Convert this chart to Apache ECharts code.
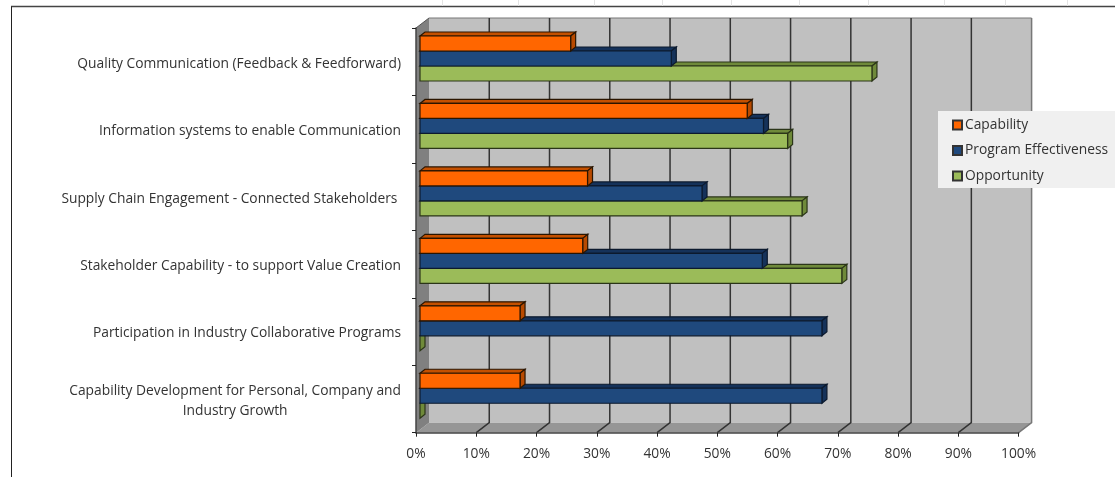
<!DOCTYPE html>
<html><head><meta charset="utf-8">
<style>html,body{margin:0;padding:0;background:#fff}#c{width:1115px;height:477px}</style>
<script src="https://cdn.jsdelivr.net/npm/echarts@6/dist/echarts.min.js"></script>
</head><body><div id="c"></div>
<script>
const categories = [
  'Quality Communication (Feedback & Feedforward)',
  'Information systems to enable Communication',
  'Supply Chain Engagement - Connected Stakeholders ',
  'Stakeholder Capability - to support Value Creation',
  'Participation in Industry Collaborative Programs',
  'Capability Development for Personal, Company and\nIndustry Growth'
];
const capability = [25, 54.3, 27.8, 27, 16.6, 16.6];
const programEffectiveness = [41.7, 57, 46.8, 56.8, 66.7, 66.7];
const opportunity = [75, 61, 63.4, 70, 0, 0];
const axisTicks = [0,10,20,30,40,50,60,70,80,90,100];
const sheetLines = [442,518,594,662,731,799,868,944,1005,1067];

const FONT = '"Open Sans"';
const LABEL_SIZE = 13.8;
const DX = 13, DY = 10;           // wall depth
const BX = 5, BY = 4, X0 = 4;     // bar depth and bar inset

function barSeries(name, values, slot, face, top, side, edge, z) {
  return {
    name, type: 'custom', z, silent: true,
    itemStyle: { color: face, borderColor: '#333', borderWidth: 1 },
    encode: { x: 0, y: 1 },
    data: values.map((v, i) => [v, i]),
    renderItem(params, api) {
      const p = api.coord([api.value(0), api.value(1)]);
      const base = api.coord([0, api.value(1)]);
      const band = api.size([0, 1])[1];
      const h = band * 0.2224;
      const x0 = base[0] + X0, x1 = p[0] + X0;
      const y0 = p[1] - band * 0.5 + band * 0.1186 + slot * h, y1 = y0 + h;
      const st = (c) => ({ fill: c, stroke: edge, lineWidth: 1.2 });
      const kids = [
        { type: 'polygon', shape: { points: [[x0, y0], [x0 + BX, y0 - BY], [x1 + BX, y0 - BY], [x1, y0]] }, style: st(top) },
        { type: 'polygon', shape: { points: [[x1, y0], [x1 + BX, y0 - BY], [x1 + BX, y1 - BY], [x1, y1]] }, style: st(side) }
      ];
      if (api.value(0) > 0) kids.push({ type: 'rect', shape: { x: x0, y: y0, width: x1 - x0, height: h }, style: st(face) });
      return { type: 'group', children: kids };
    }
  };
}

const wallSeries = {
  type: 'custom', name: 'wall', z: 1, silent: true,
  encode: { x: 0 },
  data: axisTicks.map(t => [t]),
  renderItem(params, api) {
    const cs = params.coordSys;
    const t = api.value(0);
    const x = api.coord([t, 0])[0];
    const T = cs.y, B = cs.y + cs.height, L = cs.x, R = cs.x + cs.width;
    const kids = [];
    if (t === 0) {
      kids.push(
        { type: 'polygon', shape: { points: [[L + DX, T - DY], [R + DX, T - DY], [R + DX, B - DY], [L + DX, B - DY]] }, style: { fill: '#c0c0c0' } },
        { type: 'polygon', shape: { points: [[L, B], [L + DX, B - DY], [R + DX, B - DY], [R, B]] }, style: { fill: '#969696' } },
        { type: 'polygon', shape: { points: [[L, T], [L + DX, T - DY], [L + DX, B - DY], [L, B]] }, style: { fill: '#808080' } },
        { type: 'line', shape: { x1: L, y1: T, x2: L + DX, y2: T - DY }, style: { stroke: '#555', lineWidth: 1 } },
        { type: 'line', shape: { x1: L + DX, y1: T - DY, x2: R + DX, y2: T - DY }, style: { stroke: '#777', lineWidth: 1 } }
      );
    } else {
      const c = t === 100 ? '#777' : '#333';
      kids.push(
        { type: 'polyline', shape: { points: [[x + DX, T - DY], [x + DX, B - DY], [x, B]] }, style: { fill: 'none', stroke: c, lineWidth: 1.5 } }
      );
    }
    return { type: 'group', children: kids };
  }
};

const chart = echarts.init(document.getElementById('c'), null, { renderer: 'canvas' });
chart.setOption({
  animation: false,
  backgroundColor: '#fff',
  textStyle: { fontFamily: FONT },
  grid: { left: 416, right: 96.4, top: 28, bottom: 44.3, containLabel: false },
  legend: {
    orient: 'vertical', left: 938, top: 111, z: 20, icon: 'rect',
    data: ['Capability', 'Program Effectiveness', 'Opportunity'],
    backgroundColor: '#f0f0f0', padding: [7, 20, 5, 14],
    itemWidth: 9, itemHeight: 9, itemGap: 11.5,
    textStyle: { fontFamily: FONT, fontSize: LABEL_SIZE, color: '#333', padding: [0, 0, 0, -2] },
    selectedMode: false
  },
  xAxis: {
    type: 'value', min: 0, max: 100, interval: 10, z: 10,
    axisLine: { show: true, lineStyle: { color: '#444', width: 1.5 } },
    axisTick: { show: true, length: 4, lineStyle: { color: '#222' } },
    splitLine: { show: false },
    axisLabel: { formatter: '{value}%', fontFamily: FONT, fontSize: LABEL_SIZE, color: '#333', margin: 14, hideOverlap: false }
  },
  yAxis: {
    type: 'category', inverse: true, data: categories, z: 10,
    axisLine: { show: true, onZero: false, lineStyle: { color: '#444', width: 1.5 } },
    axisTick: { show: true, length: 4, alignWithLabel: false, lineStyle: { color: '#222' } },
    axisLabel: {
      fontFamily: FONT, fontSize: LABEL_SIZE, color: '#333', margin: 15, lineHeight: 20, interval: 0,
      padding: [4, 0, 0, 0],
      formatter(v) { return v.split('\n').map(s => '{c|' + s + '}').join('\n'); },
      rich: { c: { fontFamily: FONT, fontSize: LABEL_SIZE, color: '#333', align: 'center', lineHeight: 20 } }
    }
  },
  series: [
    wallSeries,
    barSeries('Opportunity', opportunity, 2, '#9bbb59', '#6f8a3a', '#6f8a3a', '#2b3518', 2),
    barSeries('Program Effectiveness', programEffectiveness, 1, '#1f497d', '#15325a', '#15325a', '#0c1a2e', 3),
    barSeries('Capability', capability, 0, '#ff6600', '#c45000', '#b84a00', '#2a1500', 4)
  ],
  graphic: [
    { type: 'line', z: 0, silent: true, shape: { x1: 11, y1: 6.5, x2: 1115, y2: 6.5 }, style: { stroke: '#444', lineWidth: 1.5 } },
    { type: 'line', z: 0, silent: true, shape: { x1: 11.5, y1: 6.5, x2: 11.5, y2: 477 }, style: { stroke: '#222', lineWidth: 1 } },
    ...sheetLines.map(x => ({ type: 'line', z: 0, silent: true, shape: { x1: x + 0.5, y1: 0, x2: x + 0.5, y2: 6 }, style: { stroke: '#e4e4e4', lineWidth: 1 } }))
  ]
});
</script></body></html>
